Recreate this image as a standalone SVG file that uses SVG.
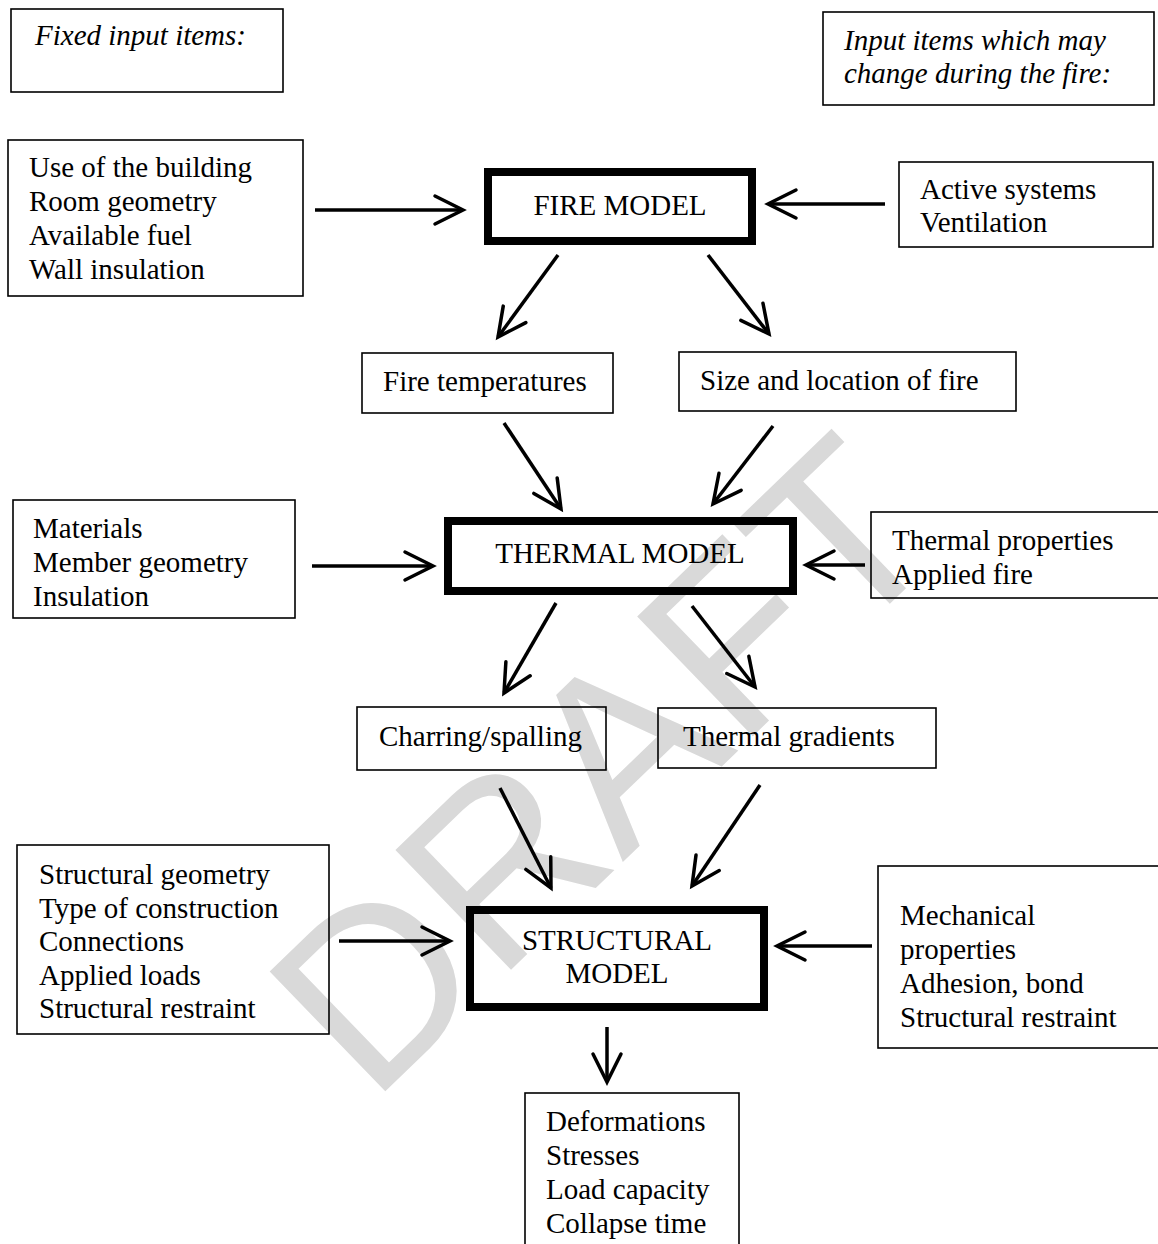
<svg xmlns="http://www.w3.org/2000/svg" width="1158" height="1244" viewBox="0 0 1158 1244">
<defs>
<style>
.t{font-family:"Liberation Serif","Times New Roman",serif;font-size:29px;fill:#000}
.i{font-style:italic}
.c{text-anchor:middle}
.box{fill:none;stroke:#000;stroke-width:1.6}
.mod{fill:none;stroke:#000;stroke-width:8}
.con line{stroke:#000;stroke-width:3.5;marker-end:url(#ah)}
.wm{font-family:"Liberation Sans",Arial,sans-serif;font-size:242px;fill:#d9d9d9;text-anchor:middle}
</style>
<marker id="ah" markerUnits="userSpaceOnUse" markerWidth="40" markerHeight="40" viewBox="-35 -20 40 40" refX="0" refY="0" orient="auto" overflow="visible">
<path d="M-28,-14 L0,0 L-28,14" fill="none" stroke="#000" stroke-width="3.5" stroke-linecap="round" stroke-linejoin="miter"/>
</marker>
</defs>
<rect width="1158" height="1244" fill="#fff"/>
<g id="watermark"><text class="wm" transform="translate(600.9,762.5) rotate(-44)" x="0" y="86.6">DRAFT</text></g>
<g id="fixed-label"><rect class="box" x="11" y="9" width="272" height="83"/><text class="t i" x="35" y="45">Fixed input items:</text></g>
<g id="changing-label"><rect class="box" x="823" y="12" width="331" height="93"/><text class="t i" x="844" y="50">Input items which may</text><text class="t i" x="844" y="83">change during the fire:</text></g>
<g id="fire-inputs-fixed"><rect class="box" x="8" y="140" width="295" height="156"/><text class="t" x="29" y="177">Use of the building</text><text class="t" x="29" y="211">Room geometry</text><text class="t" x="29" y="245">Available fuel</text><text class="t" x="29" y="279">Wall insulation</text></g>
<g id="fire-model"><rect class="mod" x="488" y="172" width="264" height="69"/><text class="t c" x="620" y="215">FIRE MODEL</text></g>
<g id="fire-inputs-changing"><rect class="box" x="899" y="162" width="254" height="85"/><text class="t" x="920" y="199">Active systems</text><text class="t" x="920" y="232">Ventilation</text></g>
<g id="fire-temperatures"><rect class="box" x="362" y="353" width="251" height="60"/><text class="t" x="383" y="391">Fire temperatures</text></g>
<g id="fire-size"><rect class="box" x="679" y="352" width="337" height="59"/><text class="t" x="700" y="390">Size and location of fire</text></g>
<g id="thermal-inputs-fixed"><rect class="box" x="13" y="500" width="282" height="118"/><text class="t" x="33" y="538">Materials</text><text class="t" x="33" y="572">Member geometry</text><text class="t" x="33" y="606">Insulation</text></g>
<g id="thermal-model"><rect class="mod" x="448" y="521" width="345" height="70"/><text class="t c" x="620" y="563">THERMAL MODEL</text></g>
<g id="thermal-inputs-changing"><rect class="box" x="871" y="512" width="300" height="86"/><text class="t" x="892" y="550">Thermal properties</text><text class="t" x="892" y="584">Applied fire</text></g>
<g id="charring"><rect class="box" x="357" y="707" width="249" height="63"/><text class="t" x="379" y="746">Charring/spalling</text></g>
<g id="thermal-gradients"><rect class="box" x="658" y="708" width="278" height="60"/><text class="t" x="683" y="746">Thermal gradients</text></g>
<g id="structural-inputs-fixed"><rect class="box" x="17" y="845" width="312" height="189"/><text class="t" x="39" y="884">Structural geometry</text><text class="t" x="39" y="918">Type of construction</text><text class="t" x="39" y="951">Connections</text><text class="t" x="39" y="985">Applied loads</text><text class="t" x="39" y="1018">Structural restraint</text></g>
<g id="structural-model"><rect class="mod" x="470" y="910" width="294" height="97"/><text class="t c" x="617" y="950">STRUCTURAL</text><text class="t c" x="617" y="983">MODEL</text></g>
<g id="structural-inputs-changing"><rect class="box" x="878" y="866" width="300" height="182"/><text class="t" x="900" y="925">Mechanical</text><text class="t" x="900" y="959">properties</text><text class="t" x="900" y="993">Adhesion, bond</text><text class="t" x="900" y="1027">Structural restraint</text></g>
<g id="outputs"><rect class="box" x="525" y="1093" width="214" height="170"/><text class="t" x="546" y="1131">Deformations</text><text class="t" x="546" y="1165">Stresses</text><text class="t" x="546" y="1199">Load capacity</text><text class="t" x="546" y="1233">Collapse time</text></g>
<g id="connectors" class="con">
<line x1="315" y1="210" x2="463" y2="210"/>
<line x1="885" y1="204" x2="768" y2="204"/>
<line x1="558" y1="255" x2="498" y2="337"/>
<line x1="708" y1="255" x2="769" y2="334"/>
<line x1="504" y1="423" x2="561" y2="509"/>
<line x1="773" y1="426" x2="713" y2="504"/>
<line x1="312" y1="566" x2="433" y2="566"/>
<line x1="865" y1="565" x2="806" y2="565"/>
<line x1="556" y1="603" x2="504" y2="693"/>
<line x1="692" y1="606" x2="755" y2="687"/>
<line x1="500" y1="788" x2="551" y2="888"/>
<line x1="760" y1="785" x2="692" y2="886"/>
<line x1="339" y1="941" x2="450" y2="941"/>
<line x1="872" y1="946" x2="777" y2="946"/>
<line x1="607" y1="1027" x2="607" y2="1082"/>
</g>
</svg>
